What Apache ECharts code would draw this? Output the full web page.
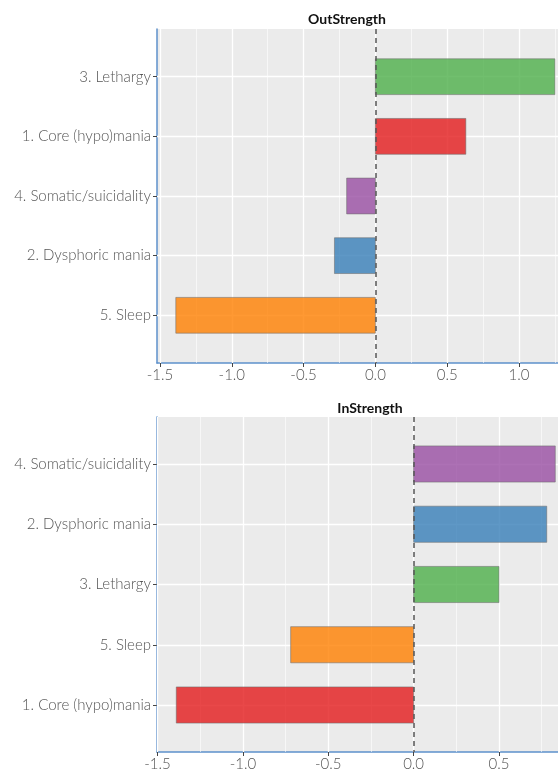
<!DOCTYPE html>
<html>
<head>
<meta charset="utf-8">
<script src="https://cdn.jsdelivr.net/npm/echarts@6/dist/echarts.min.js"></script>
<style>
  html, body { margin: 0; padding: 0; background: #ffffff; }
  #chart { width: 558px; height: 775px; }
</style>
</head>
<body>
<div id="chart"></div>
<script>
// Node strength per symptom cluster (outgoing and incoming edges)
const outCategories = ['3. Lethargy', '1. Core (hypo)mania', '4. Somatic/suicidality', '2. Dysphoric mania', '5. Sleep'];
const outValues = [1.25, 0.63, -0.20, -0.285, -1.39];

const inCategories = ['4. Somatic/suicidality', '2. Dysphoric mania', '3. Lethargy', '5. Sleep', '1. Core (hypo)mania'];
const inValues = [0.83, 0.78, 0.50, -0.72, -1.39];

const outTicks = [-1.5, -1.0, -0.5, 0.0, 0.5, 1.0];
const inTicks = [-1.5, -1.0, -0.5, 0.0, 0.5];
const outMinorTicks = [-1.25, -0.75, -0.25, 0.25, 0.75, 1.25];
const inMinorTicks = [-1.25, -0.75, -0.25, 0.25, 0.75];

// Set1 colours keyed by cluster number
const clusterColors = {
  '1': 'rgba(228,26,28,0.8)',
  '2': 'rgba(55,126,184,0.8)',
  '3': 'rgba(77,175,74,0.8)',
  '4': 'rgba(152,78,163,0.8)',
  '5': 'rgba(255,127,0,0.8)'
};

const FONT = 'Lato';
const AXIS_BLUE = '#5e91cb';
const LABEL_GREY = '#555555';

function colorFor(name) { return clusterColors[name.charAt(0)]; }

function makeGrid(top, height) {
  return {
    left: 157, right: 0, top: top, height: height,
    show: true, backgroundColor: '#EBEBEB', borderWidth: 0
  };
}

function makeXAxis(idx, min, max, ticks) {
  return {
    type: 'value', gridIndex: idx, min: min, max: max,
    axisLine: { show: true, onZero: false, lineStyle: { color: AXIS_BLUE, width: 1.5 } },
    axisTick: { show: true, customValues: ticks, length: 4, lineStyle: { color: '#444', width: 1 } },
    axisLabel: {
      customValues: ticks, margin: 5,
      formatter: v => Number(v).toFixed(1),
      color: LABEL_GREY, fontFamily: FONT, fontWeight: 300, fontSize: 15
    },
    splitLine: { show: false }
  };
}

function makeYAxis(idx, min, max, cats) {
  const pos = cats.map((c, i) => i + 1);
  return {
    type: 'value', gridIndex: idx, inverse: true, min: min, max: max,
    axisLine: { show: true, onZero: false, lineStyle: { color: AXIS_BLUE, width: 1.5 } },
    axisTick: { show: true, customValues: pos, length: 4, lineStyle: { color: '#444', width: 1 } },
    axisLabel: {
      customValues: pos, margin: 6,
      formatter: v => cats[Math.round(v) - 1] || '',
      color: LABEL_GREY, fontFamily: FONT, fontWeight: 300, fontSize: 15
    },
    splitLine: { show: false }
  };
}

// White panel gridlines drawn through the axes' own coordinates
function gridSeries(idx, majors, minors, cats) {
  const data = [];
  majors.forEach(v => data.push({ xAxis: v, lineStyle: { color: '#ffffff', width: 1.3, type: 'solid' } }));
  minors.forEach(v => data.push({ xAxis: v, lineStyle: { color: '#ffffff', width: 0.6, type: 'solid' } }));
  cats.forEach((c, i) => data.push({ yAxis: i + 1, lineStyle: { color: '#ffffff', width: 1.3, type: 'solid' } }));
  return {
    type: 'line', xAxisIndex: idx, yAxisIndex: idx, data: [], z: 1, silent: true,
    markLine: { z: 1, silent: true, symbol: 'none', label: { show: false }, animation: false, data: data }
  };
}

function barSeries(idx, cats, vals) {
  return {
    type: 'custom', xAxisIndex: idx, yAxisIndex: idx, z: 3,
    encode: { x: 0, y: 1 },
    data: vals.map((v, i) => [v, i + 1, cats[i]]),
    renderItem: function (params, api) {
      const v = api.value(0);
      const p = api.value(1);
      const a = api.coord([0, p]);
      const b = api.coord([v, p]);
      const h = api.size([0, 0.6])[1];
      const name = cats[params.dataIndex];
      return {
        type: 'rect',
        shape: { x: Math.min(a[0], b[0]), y: a[1] - h / 2, width: Math.abs(b[0] - a[0]), height: h },
        style: { fill: colorFor(name), stroke: 'rgba(110,110,110,0.7)', lineWidth: 0.8 }
      };
    }
  };
}

function zeroLine(idx) {
  return {
    type: 'line', xAxisIndex: idx, yAxisIndex: idx, data: [], z: 10, silent: true,
    markLine: {
      z: 10, silent: true, symbol: 'none', label: { show: false }, animation: false,
      data: [{ xAxis: 0, lineStyle: { color: '#555555', width: 1.5, type: [5, 4] } }]
    }
  };
}

const chart = echarts.init(document.getElementById('chart'), null, { renderer: 'canvas' });
chart.setOption({
  animation: false,
  backgroundColor: '#ffffff',
  title: [
    { text: 'OutStrength', left: 342, top: 7, textAlign: 'center',
      textStyle: { fontFamily: FONT, fontWeight: 'bold', fontSize: 14, color: '#111' } },
    { text: 'InStrength', left: 365, top: 396, textAlign: 'center',
      textStyle: { fontFamily: FONT, fontWeight: 'bold', fontSize: 14, color: '#111' } }
  ],
  grid: [makeGrid(29, 334), makeGrid(417, 335)],
  xAxis: [makeXAxis(0, -1.521, 1.272, outTicks), makeXAxis(1, -1.503, 0.846, inTicks)],
  yAxis: [makeYAxis(0, 0.2, 5.8, outCategories), makeYAxis(1, 0.22, 5.78, inCategories)],
  series: [
    gridSeries(0, outTicks, outMinorTicks, outCategories),
    gridSeries(1, inTicks, inMinorTicks, inCategories),
    barSeries(0, outCategories, outValues),
    barSeries(1, inCategories, inValues),
    zeroLine(0),
    zeroLine(1)
  ]
});
</script>
</body>
</html>
